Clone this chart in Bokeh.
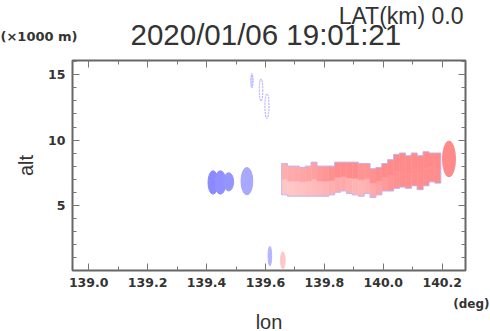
from bokeh.plotting import figure
from bokeh.models import (Range1d, LinearAxis, FixedTicker, PrintfTickFormatter,
                          CustomJSTickFormatter, Title, LinearColorMapper,
                          ColumnDataSource)
from bokeh.transform import transform
from bokeh.embed import file_html
from bokeh.resources import INLINE

# ---------------- data ----------------
lat_text = "LAT(km) 0.0"
time_text = "2020/01/06 19:01:21"
unit_text = "(\u00d71000 m)"
x_ticks = [139.0, 139.2, 139.4, 139.6, 139.8, 140.0, 140.2]
x_minor = [139.0, 139.1, 139.2, 139.3, 139.4, 139.5, 139.6, 139.7, 139.8, 139.9,
           140.0, 140.1, 140.2]
y_ticks = [5, 10, 15]
y_minor = [1, 2, 3, 4, 5, 6, 7, 8, 9, 10, 11, 12, 13, 14, 15, 16]

# main echo band, columns of 0.02 deg
band_lon = [139.665, 139.685, 139.705, 139.725, 139.745, 139.765, 139.785, 139.805,
            139.825, 139.845, 139.865, 139.885, 139.905, 139.925, 139.945, 139.965,
            139.985, 140.005, 140.025, 140.045, 140.065, 140.085, 140.105, 140.125,
            140.145, 140.165, 140.185]
band_top = [8.2, 8.0, 8.0, 7.9, 8.0, 8.3, 8.0, 8.0,
            8.0, 8.3, 8.3, 8.3, 8.3, 8.2, 8.2, 7.8,
            7.9, 8.2, 8.5, 8.9, 9.0, 8.8, 9.0, 8.8,
            9.1, 9.0, 9.0]
band_bot = [5.8, 5.7, 5.7, 5.7, 5.7, 5.7, 5.7, 5.7,
            5.8, 6.0, 6.1, 5.9, 5.8, 5.7, 5.9, 5.6,
            5.8, 6.1, 6.1, 6.3, 6.4, 6.3, 6.5, 6.2,
            6.5, 6.8, 6.7]
band_vel_up = [0.60, 0.62, 0.64, 0.66, 0.68, 0.70, 0.74, 0.78,
               0.82, 0.85, 0.85, 0.85, 0.85, 0.80, 0.80, 0.82,
               0.84, 0.86, 0.86, 0.86, 0.86, 0.86, 0.86, 0.86,
               0.86, 0.86, 0.86]
band_vel_low = [0.42, 0.42, 0.44, 0.46, 0.48, 0.50, 0.52, 0.56,
                0.60, 0.62, 0.62, 0.60, 0.55, 0.55, 0.58, 0.62,
                0.68, 0.74, 0.80, 0.82, 0.84, 0.84, 0.84, 0.84,
                0.84, 0.84, 0.84]

# isolated echoes (ellipses)
blob_lon = [139.422, 139.447, 139.475, 139.537, 140.223, 139.615, 139.659]
blob_alt = [6.75, 6.75, 6.8, 6.85, 8.55, 1.1, 0.78]
blob_w = [0.034, 0.038, 0.034, 0.040, 0.044, 0.012, 0.016]
blob_h = [1.8, 1.8, 1.4, 2.1, 2.75, 1.5, 1.3]
blob_vel = [-0.86, -0.82, -0.78, -0.64, 0.86, -0.55, 0.40]

# faint high echoes (outlines)
faint_lon = [139.554, 139.585, 139.605]
faint_alt = [14.55, 13.85, 12.6]
faint_w = [0.008, 0.012, 0.014]
faint_h = [1.1, 1.7, 1.9]
faint_vel = [-0.6, 0.05, 0.08]

# ---------------- figure ----------------
W, H = 490, 331
p = figure(width=W, height=H, output_backend="svg", toolbar_location=None,
           title=None,
           x_range=Range1d(138.945, 140.279), y_range=Range1d(0, 16.1),
           min_border_left=72, min_border_right=25, min_border_top=60,
           min_border_bottom=61, background_fill_color="white",
           border_fill_color="white")
p.xgrid.visible = False
p.ygrid.visible = False
p.outline_line_color = "#666666"
p.outline_line_width = 2

# blue-white-red palette
palette = []
for i in range(256):
    t = i / 255.0 * 2 - 1
    if t < 0:
        a = -t
        c = (int(255 - 135 * a), int(255 - 135 * a), 255)
    else:
        c = (255, int(255 - 135 * t), int(255 - 135 * t))
    palette.append("#%02x%02x%02x" % c)
mapper = LinearColorMapper(palette=palette, low=-1, high=1)

half = 0.01
mid = [(a + b) / 2 for a, b in zip(band_top, band_bot)]
src_low = ColumnDataSource(dict(left=[x - half for x in band_lon],
                                right=[x + half for x in band_lon],
                                bottom=band_bot, top=mid, v=band_vel_low))
src_up = ColumnDataSource(dict(left=[x - half for x in band_lon],
                               right=[x + half for x in band_lon],
                               bottom=mid, top=band_top, v=band_vel_up))
for s in (src_low, src_up):
    p.quad(left="left", right="right", bottom="bottom", top="top", source=s,
           fill_color=transform("v", mapper), line_color=transform("v", mapper),
           line_width=0.5)

# outline of band
ox, oy = [], []
for x, t in zip(band_lon, band_top):
    ox += [x - half, x + half]
    oy += [t, t]
for x, b in zip(reversed(band_lon), reversed(band_bot)):
    ox += [x + half, x - half]
    oy += [b, b]
ox.append(ox[0]); oy.append(oy[0])
p.line(ox, oy, line_color="#b4b4ff", line_width=1, line_alpha=0.8)

bsrc = ColumnDataSource(dict(x=blob_lon, y=blob_alt, w=blob_w, h=blob_h, v=blob_vel))
p.ellipse(x="x", y="y", width="w", height="h", source=bsrc,
          fill_color=transform("v", mapper), line_color=transform("v", mapper),
          line_width=1)
fsrc = ColumnDataSource(dict(x=faint_lon, y=faint_alt, w=faint_w, h=faint_h, v=faint_vel))
p.ellipse(x="x", y="y", width="w", height="h", source=fsrc,
          fill_color=transform("v", mapper), fill_alpha=0.5,
          line_color="#a8a8ff", line_width=1, line_dash="2 1")

# ---------------- axes ----------------
xt = FixedTicker(ticks=x_ticks, minor_ticks=x_minor)
yt = FixedTicker(ticks=y_ticks, minor_ticks=y_minor)
p.xaxis.ticker = xt
p.yaxis.ticker = yt
p.xaxis.formatter = PrintfTickFormatter(format="%.1f")
p.yaxis.formatter = PrintfTickFormatter(format="%d")

FONT = "Liberation Sans"
TICKFONT = "DejaVu Sans"
GREY = "#333333"

def style(ax):
    ax.axis_line_color = None
    ax.major_tick_in = 7
    ax.major_tick_out = 0
    ax.minor_tick_in = 4
    ax.minor_tick_out = 0
    ax.major_tick_line_color = "#777777"
    ax.minor_tick_line_color = "#777777"
    ax.major_label_text_font = TICKFONT
    ax.major_label_text_font_style = "bold"
    ax.major_label_text_font_size = "12.5px"
    ax.major_label_text_color = GREY
    ax.major_label_standoff = 7

style(p.xaxis[0])
style(p.yaxis[0])
p.yaxis[0].axis_label = "alt"
p.yaxis[0].axis_label_text_font = FONT
p.yaxis[0].axis_label_text_font_size = "20px"
p.yaxis[0].axis_label_text_font_style = "normal"
p.yaxis[0].axis_label_text_color = GREY
p.yaxis[0].axis_label_standoff = 8

blank = CustomJSTickFormatter(code="return ''")
top_ax = LinearAxis(ticker=xt, formatter=blank)
right_ax = LinearAxis(ticker=yt, formatter=blank)
style(top_ax)
style(right_ax)
top_ax.major_label_standoff = 0
right_ax.major_label_standoff = 0
p.add_layout(top_ax, "above")
p.add_layout(right_ax, "right")

# ---------------- titles in side panels ----------------
def ttl(text, size, font, style_="normal", align="left", offset=0, standoff=0):
    return Title(text=text, text_font=font, text_font_size=size,
                 text_font_style=style_, text_color=GREY, align=align,
                 offset=offset, standoff=standoff)

p.add_layout(ttl(time_text, "29.5px", FONT, "normal", "left", offset=58, standoff=19), "above")
p.add_layout(ttl(lat_text, "23px", FONT, "normal", "right", offset=2, standoff=-44), "above")
p.add_layout(ttl(unit_text, "13px", TICKFONT, "bold", "left", offset=-72, standoff=-74), "above")

p.add_layout(ttl("(deg)", "12px", TICKFONT, "bold", "right", offset=-24, standoff=11), "below")
p.add_layout(ttl("lon", "20px", FONT, "normal", "center", offset=0, standoff=-15), "below")

open("out.html", "w").write(file_html(p, INLINE))
